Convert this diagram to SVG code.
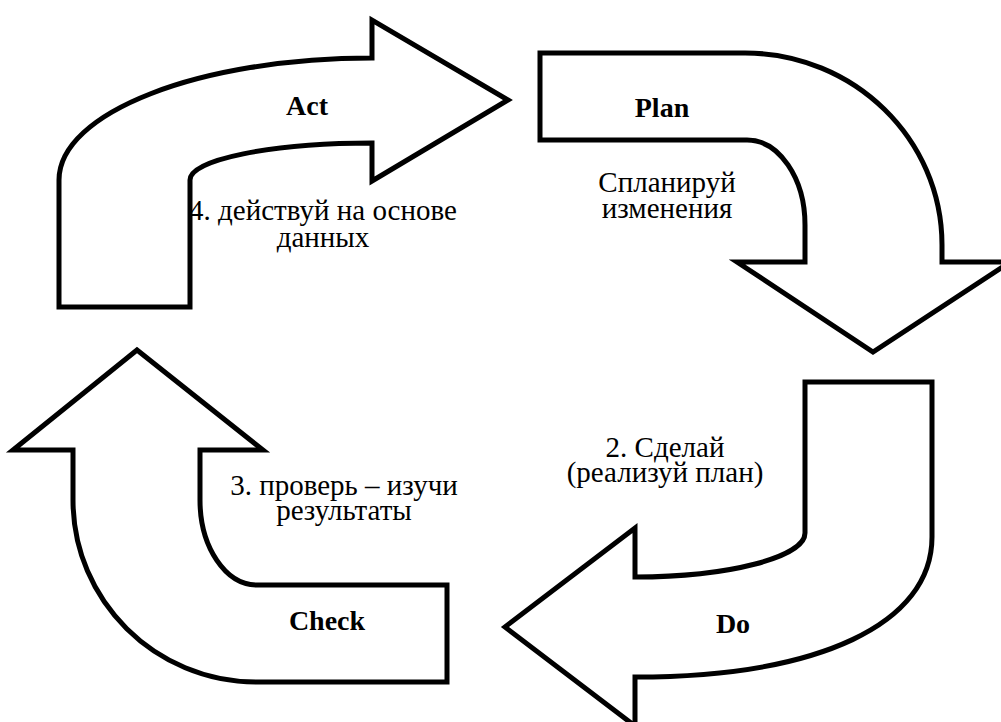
<svg xmlns="http://www.w3.org/2000/svg" width="1001" height="722" viewBox="0 0 1001 722">
  <defs>
    <!-- shared outline look for the four bent arrows -->
    <path id="act-shape" d="M 59,307 L 59,180 C 59,112.6 199.1,58 372,58 L 372,20 L 508,100 L 372,181 L 372,143 C 271.5,143 190,159.6 190,180 L 190,307 Z"/>
    <path id="plan-shape" d="M 540,53 L 745,53 C 853.8,53 942,139 942,245 L 942,262 L 1010,262 L 873,352 L 737,262 L 805,262 L 805,225 C 805,178 779,140 747,140 L 540,140 Z"/>
    <path id="do-shape" d="M 805,382 L 932,382 L 932,537 C 932,624 819,677 635,677 L 635,726 L 505,627 L 635,528 L 635,577 C 729,577 805,557 805,533 L 805,382 Z"/>
    <path id="check-shape" d="M 137,350 L 263,450 L 200,450 L 200,500 C 200,547 225.5,585 257,585 L 447,585 L 447,682 L 257,682 C 155,682 73,600.5 73,500 L 73,450 L 13,450 Z"/>
  </defs>
  <rect x="0" y="0" width="1001" height="722" fill="#ffffff"/>

  <!-- the cycle arrows: Act -> Plan -> Do -> Check -> Act -->
  <g id="connectors" fill="#ffffff" stroke="#000000" stroke-width="5" stroke-linejoin="miter">
    <use id="arrow-act" href="#act-shape"/>
    <use id="arrow-plan" href="#plan-shape"/>
    <use id="arrow-do" href="#do-shape"/>
    <use id="arrow-check" href="#check-shape"/>
  </g>

  <g id="labels" font-family="Liberation Serif" fill="#000000" text-anchor="middle">
    <g id="node-act">
      <text x="307" y="115" font-size="28" font-weight="bold">Act</text>
      <text x="323" y="220" font-size="29">4. действуй на основе</text>
      <text x="323" y="247" font-size="29">данных</text>
    </g>

    <g id="node-plan">
      <text x="662" y="117" font-size="28" font-weight="bold">Plan</text>
      <text x="667" y="192" font-size="29">Спланируй</text>
      <text x="667" y="218" font-size="29">изменения</text>
    </g>

    <g id="node-do">
      <text x="733" y="633" font-size="28" font-weight="bold">Do</text>
      <text x="665" y="457" font-size="29">2. Сделай</text>
      <text x="665" y="482" font-size="29">(реализуй план)</text>
    </g>

    <g id="node-check">
      <text x="327" y="630" font-size="28" font-weight="bold">Check</text>
      <text x="344" y="495" font-size="29">3. проверь – изучи</text>
      <text x="344" y="520" font-size="29">результаты</text>
    </g>
  </g>
</svg>
